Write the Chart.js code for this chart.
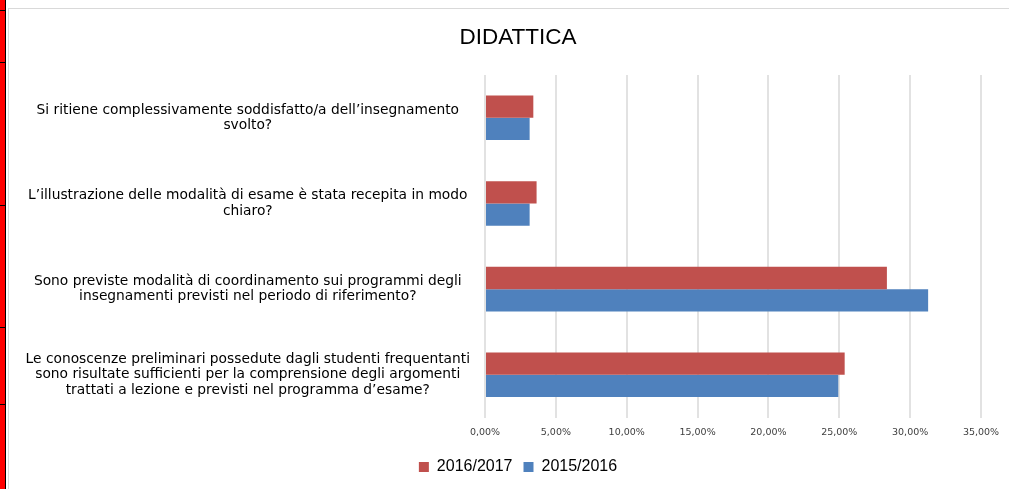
<!DOCTYPE html>
<html>
<head>
<meta charset="utf-8">
<script src="https://cdn.jsdelivr.net/npm/chart.js@4/dist/chart.umd.min.js"></script>
<style>
html, body { margin: 0; padding: 0; background: #fff; overflow: hidden; width: 1009px; height: 489px; }
#strip { position: absolute; left: 0; top: 0; width: 5px; height: 489px; background: #ff0000; border-right: 1px solid #000; }
.hl { position: absolute; left: 0; width: 5px; height: 1px; background: #000; }
#frame { position: absolute; left: 8px; top: 8px; width: 1040px; height: 520px; border-left: 1px solid #d9d9d9; border-top: 1px solid #d9d9d9; }
#box { position: absolute; left: 9px; top: 9px; width: 1018px; height: 480px; }
</style>
</head>
<body>
<div id="strip"></div>
<div class="hl" style="top:10px"></div>
<div class="hl" style="top:62px"></div>
<div class="hl" style="top:205px"></div>
<div class="hl" style="top:327px"></div>
<div class="hl" style="top:404px"></div>
<div id="frame"></div>
<div id="box"><canvas id="c" width="1018" height="480"></canvas></div>
<script>
const chartTitle = 'DIDATTICA';
const categories = [
  ['Si ritiene complessivamente soddisfatto/a dell’insegnamento', 'svolto?'],
  ['L’illustrazione delle modalità di esame è stata recepita in modo', 'chiaro?'],
  ['Sono previste modalità di coordinamento sui programmi degli', 'insegnamenti previsti nel periodo di riferimento?'],
  ['Le conoscenze preliminari possedute dagli studenti frequentanti', 'sono risultate sufficienti per la comprensione degli argomenti', 'trattati a lezione e previsti nel programma d’esame?']
];
const seriesNames = ['2016/2017', '2015/2016'];
const values2016_2017 = [3.41, 3.64, 28.36, 25.38];
const values2015_2016 = [3.15, 3.15, 31.27, 24.93];
const xTickLabels = ['0,00%', '5,00%', '10,00%', '15,00%', '20,00%', '25,00%', '30,00%', '35,00%'];

new Chart(document.getElementById('c'), {
  type: 'bar',
  data: {
    labels: categories,
    datasets: [
      { label: seriesNames[0], data: values2016_2017, backgroundColor: '#C0504D', borderWidth: 0 },
      { label: seriesNames[1], data: values2015_2016, backgroundColor: '#4F81BD', borderWidth: 0 }
    ]
  },
  options: {
    indexAxis: 'y',
    responsive: false,
    animation: false,
    devicePixelRatio: 1,
    layout: { padding: { top: 0, left: 0, right: 0, bottom: 4 } },
    datasets: { bar: { barPercentage: 1, categoryPercentage: 0.52 } },
    scales: {
      x: {
        min: 0, max: 35,
        ticks: {
          stepSize: 5,
          padding: 9.5,
          color: '#404040',
          font: { family: 'DejaVu Sans', size: 9.5, lineHeight: 1.2 },
          callback: (v, i) => xTickLabels[i]
        },
        grid: { color: '#e2e2e2', lineWidth: 2, drawTicks: false },
        border: { display: false }
      },
      y: {
        ticks: {
          crossAlign: 'center',
          padding: 7,
          color: '#000',
          font: { family: 'DejaVu Sans', size: 13.8, lineHeight: 1.12 }
        },
        grid: { display: false },
        border: { display: false },
        afterFit: (s) => { s.width = 476; }
      },
      yRight: {
        type: 'linear',
        position: 'right',
        ticks: { display: false },
        grid: { display: false },
        border: { display: false },
        afterFit: (s) => { s.width = 46; }
      }
    },
    plugins: {
      title: {
        display: true,
        text: chartTitle,
        color: '#000',
        font: { family: 'Liberation Sans', size: 22.5, weight: 'normal', lineHeight: 1.2 },
        padding: { top: 15, bottom: 24 }
      },
      legend: {
        position: 'bottom',
        labels: {
          boxWidth: 10, boxHeight: 10, padding: 11,
          color: '#000',
          font: { family: 'Liberation Sans', size: 16 }
        }
      },
      tooltip: { enabled: false }
    }
  }
});
</script>
</body>
</html>
